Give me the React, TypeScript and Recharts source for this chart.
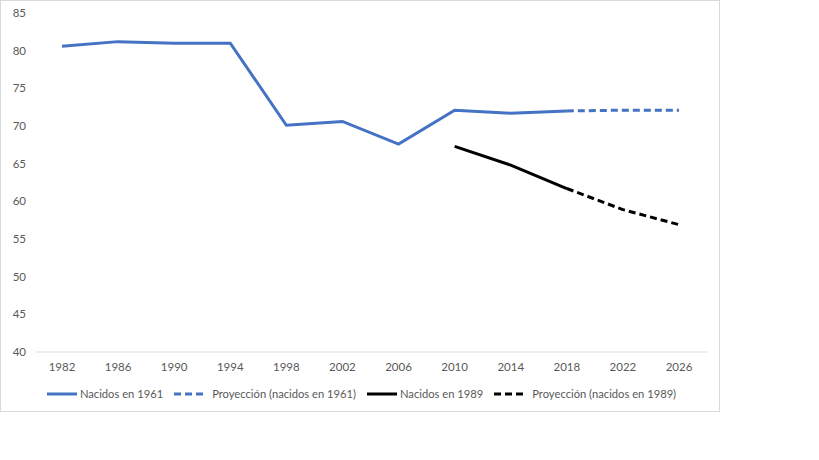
import { LineChart, Line, XAxis, YAxis, Legend } from "recharts";

const years = ["1982", "1986", "1990", "1994", "1998", "2002", "2006", "2010", "2014", "2018", "2022", "2026"];
const nacidos1961 = [80.6, 81.2, 81.0, 81.0, 70.1, 70.6, 67.6, 72.1, 71.7, 72.0, null, null];
const proy1961 = [null, null, null, null, null, null, null, null, null, 72.0, 72.1, 72.1];
const nacidos1989 = [null, null, null, null, null, null, null, 67.3, 64.8, 61.7, null, null];
const proy1989 = [null, null, null, null, null, null, null, null, null, 61.7, 58.9, 56.9];
const yTicks = [40, 45, 50, 55, 60, 65, 70, 75, 80, 85];

const data = years.map((year, i) => ({
  year,
  n1961: nacidos1961[i],
  p1961: proy1961[i],
  n1989: nacidos1989[i],
  p1989: proy1989[i],
}));

const BLUE = "#4472C4";

const legendItems = [
  { label: "Nacidos en 1961", color: BLUE, dash: false },
  { label: "Proyección (nacidos en 1961)", color: BLUE, dash: true },
  { label: "Nacidos en 1989", color: "#000", dash: false },
  { label: "Proyección (nacidos en 1989)", color: "#000", dash: true },
];

function LegendContent() {
  return (
    <div style={{ display: "flex", justifyContent: "center", gap: 10, fontSize: 11.2, color: "#595959", paddingLeft: 14 }}>
      {legendItems.map((it) => (
        <div key={it.label} style={{ display: "flex", alignItems: "center" }}>
          <svg width={32} height={6} style={{ marginRight: it.dash ? 7 : 2 }}>
            <line
              x1={1}
              y1={3}
              x2={31}
              y2={3}
              stroke={it.color}
              strokeWidth={3}
              strokeDasharray={it.dash ? "7 4" : undefined}
            />
          </svg>
          <span>{it.label}</span>
        </div>
      ))}
    </div>
  );
}

export default function App() {
  return (
    <div
      style={{
        position: "absolute",
        left: 0,
        top: 0,
        width: 718,
        height: 410,
        border: "1px solid #d9d9d9",
        background: "#fff",
        fontFamily: "Lato, 'Open Sans', sans-serif",
      }}
    >
      <LineChart width={718} height={410} data={data} margin={{ top: 12, right: 12, bottom: 0, left: 0 }}>
        <XAxis
          dataKey="year"
          height={35}
          padding={{ left: 26, right: 28 }}
          tickLine={false}
          tickSize={0}
          tickMargin={11}
          axisLine={{ stroke: "#d9d9d9" }}
          tick={{ fill: "#595959", fontSize: 11.5 }}
          interval={0}
        />
        <YAxis
          domain={[40, 85]}
          ticks={yTicks}
          width={35}
          tickLine={false}
          axisLine={false}
          tickSize={0}
          tickMargin={10}
          tick={{ fill: "#595959", fontSize: 11.5 }}
        />
        <Legend verticalAlign="bottom" height={24} content={<LegendContent />} />
        <Line dataKey="n1961" stroke={BLUE} strokeWidth={3} dot={false} isAnimationActive={false} />
        <Line dataKey="p1961" stroke={BLUE} strokeWidth={3} strokeDasharray="7 4" dot={false} isAnimationActive={false} />
        <Line dataKey="n1989" stroke="#000" strokeWidth={3} dot={false} isAnimationActive={false} />
        <Line dataKey="p1989" stroke="#000" strokeWidth={3} strokeDasharray="7 4" dot={false} isAnimationActive={false} />
      </LineChart>
    </div>
  );
}
